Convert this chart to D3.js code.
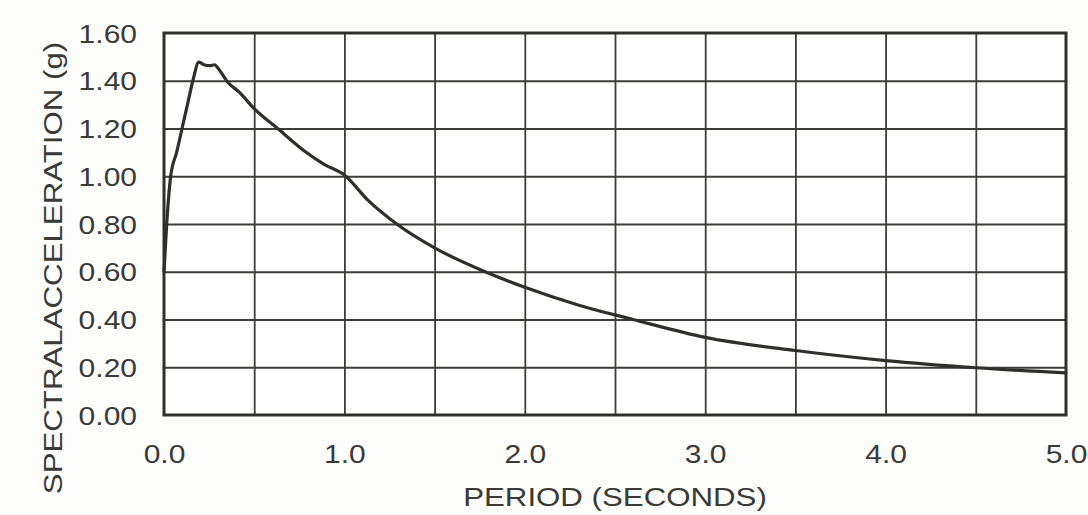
<!DOCTYPE html>
<html>
<head>
<meta charset="utf-8">
<script src="https://cdn.jsdelivr.net/npm/d3@7"></script>
<style>
  html, body { margin: 0; padding: 0; background: #fdfdfb; }
  svg { display: block; }
  text { font-family: "Liberation Sans", Arial, sans-serif; fill: #3a3a36; }
</style>
</head>
<body>
<svg id="chart" width="1088" height="515"></svg>
<script>
// ---- data ----
const periods = [0, 0.015, 0.037, 0.07, 0.10, 0.13, 0.16, 0.193, 0.225, 0.255, 0.28, 0.306, 0.35, 0.42, 0.5, 0.63, 0.78, 0.89, 1.0, 1.13, 1.29, 1.5, 1.78, 2.0, 2.3, 2.6, 3.0, 3.5, 4.0, 4.5, 5.0];
const spectralAcc = [0.60, 0.80, 1.00, 1.10, 1.20, 1.30, 1.40, 1.478, 1.466, 1.463, 1.467, 1.446, 1.397, 1.35, 1.283, 1.20, 1.105, 1.049, 1.005, 0.90, 0.80, 0.70, 0.60, 0.535, 0.46, 0.40, 0.325, 0.27, 0.228, 0.198, 0.176];
const xTicks = [0, 1, 2, 3, 4, 5];
const xGrid = [0.5, 1, 1.5, 2, 2.5, 3, 3.5, 4, 4.5];
const yTicks = [0, 0.2, 0.4, 0.6, 0.8, 1.0, 1.2, 1.4, 1.6];
const xTitle = "PERIOD (SECONDS)";
const yTitle = "SPECTRALACCELERATION (g)";

// ---- layout ----
const L = 164, R = 1066, T = 33, B = 415;
const svg = d3.select("#chart");
const x = d3.scaleLinear().domain([0, 5]).range([L, R]);
const y = d3.scaleLinear().domain([0, 1.6]).range([B, T]);
const ink = "#2f2f2b";
const sx = 1.2;

// background of plot
svg.append("rect").attr("x", L).attr("y", T).attr("width", R - L).attr("height", B - T).attr("fill", "#ffffff");

// gridlines
svg.append("g").attr("transform", `translate(0,${B})`)
  .call(d3.axisBottom(x).tickValues(xGrid).tickSize(-(B - T)).tickFormat(""))
  .call(g => g.select(".domain").remove())
  .call(g => g.selectAll("line").attr("stroke", "#3c3c38").attr("stroke-width", 1.8));

svg.append("g").attr("transform", `translate(${L},0)`)
  .call(d3.axisLeft(y).tickValues(yTicks.slice(1, -1)).tickSize(-(R - L)).tickFormat(""))
  .call(g => g.select(".domain").remove())
  .call(g => g.selectAll("line").attr("stroke", "#3c3c38").attr("stroke-width", 2));

// curve
const data = periods.map((p, i) => ({ p, v: spectralAcc[i] }));
svg.append("path").datum(data)
  .attr("fill", "none").attr("stroke", ink).attr("stroke-width", 3.2)
  .attr("stroke-linejoin", "round").attr("stroke-linecap", "round")
  .attr("d", d3.line().x(d => x(d.p)).y(d => y(d.v)).curve(d3.curveMonotoneX));

// frame
svg.append("rect").attr("x", L).attr("y", T).attr("width", R - L).attr("height", B - T)
  .attr("fill", "none").attr("stroke", ink).attr("stroke-width", 3);

// x tick labels
svg.append("g").attr("transform", `translate(0,${B})`)
  .call(d3.axisBottom(x).tickValues(xTicks).tickSize(0).tickFormat(d3.format(".1f")))
  .call(g => g.select(".domain").remove())
  .call(g => g.selectAll("text")
    .attr("y", 48).attr("dy", null)
    .attr("font-size", 25)
    .attr("fill", "#3a3a36")
    .attr("transform", `scale(${sx},1)`));

// y tick labels
svg.append("g").attr("transform", `translate(${L},0)`)
  .call(d3.axisLeft(y).tickValues(yTicks).tickSize(0).tickFormat(d3.format(".2f")))
  .call(g => g.select(".domain").remove())
  .call(g => g.selectAll("text")
    .attr("x", -(L - 137) / sx).attr("dy", "0.36em")
    .attr("font-size", 25)
    .attr("fill", "#3a3a36")
    .attr("transform", `scale(${sx},1)`));

// axis titles
svg.append("text")
  .attr("transform", `translate(${(L + R) / 2},506) scale(1.25,1)`)
  .attr("text-anchor", "middle").attr("font-size", 25)
  .text(xTitle);

svg.append("text")
  .attr("transform", `translate(62,268) rotate(-90) scale(1.25,1)`)
  .attr("text-anchor", "middle").attr("font-size", 25)
  .text(yTitle);
</script>
</body>
</html>
